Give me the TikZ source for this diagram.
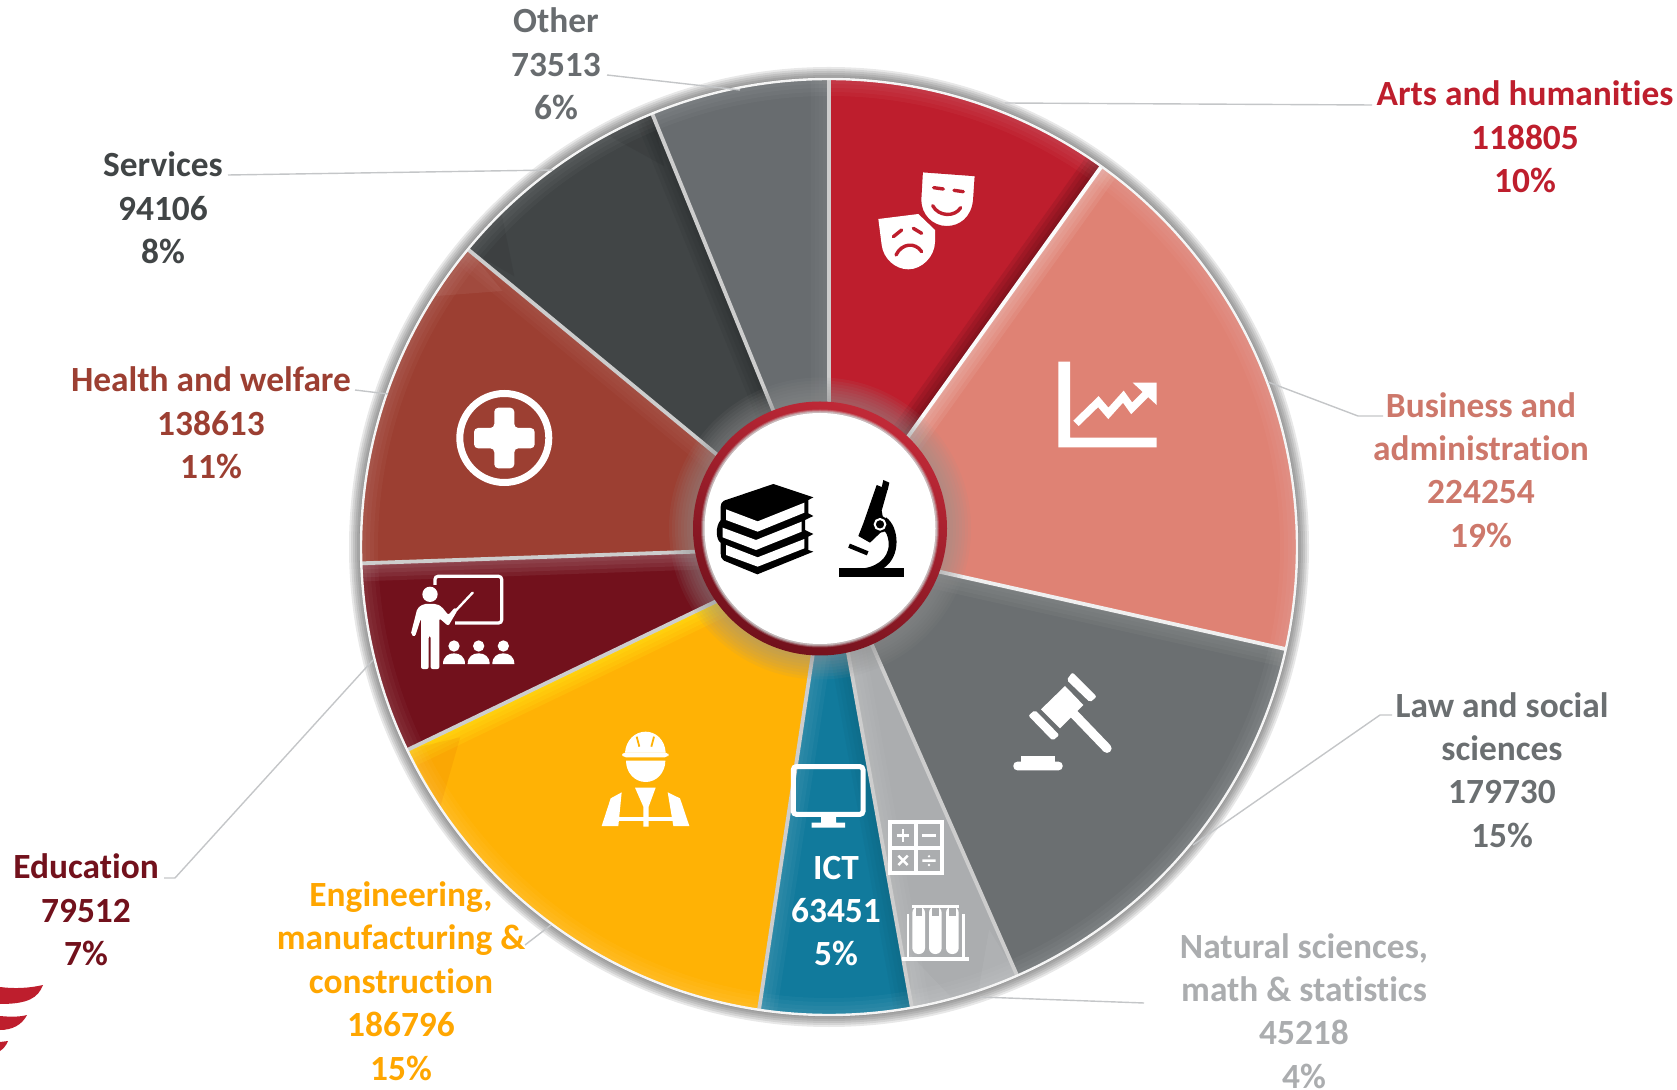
\documentclass[tikz,border=0pt]{standalone}
\usepackage{fontspec}
\setmainfont{Carlito}[Ligatures=CommonOff]
\usetikzlibrary{calc}
\definecolor{artsc}{HTML}{BE1E2D}
\definecolor{busc}{HTML}{DF8274}
\definecolor{lawc}{HTML}{6B6F71}
\definecolor{natc}{HTML}{ABADAF}
\definecolor{ictc}{HTML}{117A9C}
\definecolor{engc}{HTML}{FFB205}
\definecolor{educ}{HTML}{72111C}
\definecolor{heac}{HTML}{9C3F32}
\definecolor{serc}{HTML}{414546}
\definecolor{othc}{HTML}{686C6F}
\definecolor{rimc}{HTML}{CDCDCD}
\definecolor{leadc}{HTML}{C4C6C8}
\tikzset{
 lbl/.style={font=\fontsize{17.7}{21.7}\selectfont\bfseries,align=center,inner sep=0pt},
 leader/.style={draw=leadc,line width=0.7pt},
 spoke/.style={draw=rimc,line width=1.9pt},
 zoomed/.style n args={2}{shift={(#1,#2)},x=0.16667pt,y=-0.16667pt},
}
\newcommand{\wedgefill}[3]{\fill[#3] (c) -- ($(c)+(#1:468)$) arc[start angle=#1,end angle=#2,radius=468] -- cycle;}
\newcommand{\edgeglow}[4]{%
 \begin{scope}
 \clip (c) -- ($(c)+(#1:468)$) arc[start angle=#1,end angle=#2,radius=468] -- cycle;
 \foreach \w in {36,28,20,12,6}{\draw[#4,opacity=0.14,line width=\w*0.5pt] (c) -- ($(c)+(#3:468)$);}
 \end{scope}}
\newcommand{\facet}[3]{\fill[#3,opacity=0.06] ($(c)+(#1:467)$) -- ($(c)+({#1+0.2*(#2)}:415)$) -- ($(c)+({#1+(#2)}:467)$) -- cycle;}
\begin{document}
\begin{tikzpicture}[x=0.5pt,y=-0.5pt]
\useasboundingbox (0,0) rectangle (1677,1090);
\coordinate (c) at (829,547);
% soft outer shadow
\foreach \r in {480,478,476,474,472,470}{\fill[black!75,opacity=0.12] (c) circle (\r);}
% wedges
\wedgefill{-90}{-54.4}{artsc}
\wedgefill{-54.4}{12.6}{busc}
\wedgefill{12.6}{66.3}{lawc}
\wedgefill{66.3}{79.8}{natc}
\wedgefill{79.8}{98.6}{ictc}
\wedgefill{98.6}{154.3}{engc}
\wedgefill{154.3}{178}{educ}
\wedgefill{178}{219.5}{heac}
\wedgefill{219.5}{247.8}{serc}
\wedgefill{247.8}{270}{othc}
% bevel glows
\edgeglow{-90}{-54.4}{-54.4}{black!60!artsc}
\edgeglow{-54.4}{12.6}{-54.4}{white!55!busc}
\edgeglow{12.6}{66.3}{12.6}{white!25!lawc}
\edgeglow{66.3}{79.8}{79.8}{white!25!natc}
\edgeglow{79.8}{98.6}{98.6}{white!25!ictc}
\edgeglow{79.8}{98.6}{79.8}{black!20!ictc}
\edgeglow{98.6}{154.3}{154.3}{yellow!90!white}
\edgeglow{154.3}{178}{178}{white!45!educ}
\edgeglow{178}{219.5}{219.5}{white!18!heac}
\edgeglow{219.5}{247.8}{247.8}{black!40!serc}
\edgeglow{247.8}{270}{270}{white!15!othc}
% light along the outer edge
\begin{scope}
\clip (c) circle (468);
\foreach \w in {34,26,18,10}{\draw[white,opacity=0.03,line width=\w*0.5pt] (c) circle (468);}
\end{scope}
% corner facets
\facet{219.5}{-7}{white}
\facet{219.5}{6}{black}
\facet{247.8}{-6}{black}
\facet{154.3}{-8}{black!30!red}
\facet{79.8}{-5}{white}
\facet{66.3}{5}{white}
% spokes
\foreach \a/\s in {-90/rimc,-54.4/white!92!rimc,12.6/white!70!rimc,66.3/rimc,79.8/rimc,98.6/rimc,154.3/rimc,178/rimc,219.5/rimc,247.8/rimc}{
  \draw[spoke,draw=\s] (c) -- ($(c)+(\a:468)$);}
\draw[draw=white!80!rimc,line width=1.2pt] (c) circle (468);
% grey halo round the hub
\coordinate (h) at (820,528.5);
\foreach \r in {151,148,145,142,139,136,133,130}{\fill[gray!85,opacity=0.085] (h) circle (\r);}
% hub
\shade[top color=artsc!95!white,bottom color=educ,shading angle=-25] (h) circle (127);
\foreach \r/\o in {119/.25,118/.45,117/.7}{\fill[gray!40!white,opacity=\o] (h) circle (\r);}
\fill[white] (h) circle (115.5);
% books
\begin{scope}[zoomed={650}{380}]
\fill[black] (222,362) -- (370,312) -- (490,352) -- (475,360) -- (475,400) -- (490,408) -- (465,420) -- (465,450) -- (490,462) -- (475,470) -- (475,510) -- (490,515) -- (322,583) -- (222,542) .. controls (214,538) and (212,530) .. (212,520) -- (212,488) .. controls (198,480) and (195,440) .. (212,420) -- (212,380) .. controls (212,372) and (215,365) .. (222,362) -- cycle;
\fill[white] (228,388) -- (323,424) -- (463,368) -- (463,398) -- (323,455) -- (228,420) -- cycle;
\fill[white] (218,443) -- (318,480) -- (455,425) -- (455,455) -- (318,510) -- (218,472) -- cycle;
\fill[white] (228,495) -- (323,532) -- (463,477) -- (463,505) -- (323,560) -- (228,525) -- cycle;
% microscope
\fill[black] (568,565) rectangle (762,592);
\fill[black] (700,300) -- (718,308) -- (713,330) -- (695,322) -- cycle;
\fill[black] (680,315) -- (713,328) -- (695,392) -- (705,445) -- (660,488) -- (625,468) -- (640,430) -- cycle;
\fill[black] (708,412) .. controls (748,440) and (755,530) .. (700,565) -- (640,565) .. controls (690,558) and (725,525) .. (714,475) .. controls (710,460) and (706,452) .. (698,450) -- cycle;
\fill[black] (690,433) circle[radius=25];
\draw[white,line width=1pt] (690,433) circle[radius=16];
\draw[black,line width=2.2pt] (597,497) -- (653,520);
\end{scope}
% masks
\begin{scope}[zoomed={840}{140}]
\fill[white] (115,237) -- (235,222) -- (285,270) -- (285,305) .. controls (285,350) and (245,388) .. (205,388) .. controls (165,388) and (130,355) .. (125,315) -- cycle;
\draw[artsc,line width=1.7pt,line cap=round] (160,290) -- (185,270) (220,265) -- (245,280);
\draw[artsc,line width=1.7pt,line cap=round] (168,345) .. controls (185,310) and (225,305) .. (245,335);
\fill[white,draw=artsc,line width=1.3pt] (245,93) -- (408,105) -- (403,180) .. controls (398,235) and (360,262) .. (320,262) .. controls (275,262) and (240,225) .. (240,180) -- cycle;
\draw[artsc,line width=1.7pt,line cap=round] (281,143) -- (310,147) (342,151) -- (370,155);
\draw[artsc,line width=1.7pt,line cap=round] (278,197) .. controls (295,230) and (345,232) .. (362,203);
% chart
\fill[white] (655,665) -- (690,665) -- (690,893) -- (950,893) -- (950,922) -- (655,922) -- cycle;
\draw[white,line width=3.8pt,line join=miter] (708,850) -- (775,785) -- (805,820) -- (850,770) -- (875,805) -- (928,752);
\fill[white] (878,728) -- (950,728) -- (950,795) -- cycle;
\end{scope}
% gavel
\begin{scope}[zoomed={980}{650}]
\fill[white] (183,178) -- (255,108) -- (310,165) -- (240,235) -- cycle;
\fill[white,rounded corners=1pt] (260,90) -- (277,67) -- (350,140) -- (330,157) -- cycle;
\fill[white,rounded corners=1pt] (145,197) -- (165,180) -- (238,255) -- (218,272) -- cycle;
\draw[white,line width=4.6pt,line cap=round] (280,190) -- (381,295);
\fill[white] (122,317) rectangle (226,337);
\fill[white,rounded corners=2pt] (100,335) rectangle (248,361);
\end{scope}
% monitor, calculator, test tubes
\begin{scope}[zoomed={760}{740}]
\draw[white,line width=2.5pt,rounded corners=1.5pt] (100,80) rectangle (309,223);
\fill[white] (183,228) -- (228,228) -- (228,248) -- (255,248) -- (255,263) -- (155,263) -- (155,248) -- (183,248) -- cycle;
\fill[white] (384,240) rectangle (552,405);
\fill[natc] (397,253) rectangle (462,318);
\fill[natc] (473,253) rectangle (540,318);
\fill[natc] (397,330) rectangle (462,393);
\fill[natc] (473,330) rectangle (540,393);
\draw[white,line width=1.2pt] (410,286) -- (448,286) (429,267) -- (429,305) (487,286) -- (527,286);
\draw[white,line width=1.2pt] (415,347) -- (443,375) (443,347) -- (415,375) (487,362) -- (527,362);
\fill[white] (507,349) circle[radius=4] (507,375) circle[radius=4];
\fill[white] (427,650) rectangle (627,664);
\fill[white] (440,522) rectangle (448,650);
\fill[white] (607,522) rectangle (615,650);
\fill[white] (455,495) rectangle (598,503);
\foreach \x in {457,507,558}{
  \fill[white,rounded corners=3pt] (\x,500) -- (\x,642) -- (\x+38,642) -- (\x+38,500) -- cycle;
  \fill[natc] (\x+10,505) rectangle (\x+29,528);}
\end{scope}
% teacher and engineer
\begin{scope}[zoomed={380}{550}]
\draw[white,line width=1.6pt,rounded corners=1.5pt] (165,105) -- (165,79) -- (365,79) -- (365,219) -- (225,219);
\fill[white] (150,133) circle[radius=23];
\fill[white,rounded corners=1pt] (130,162) -- (170,162) -- (185,170) -- (205,195) -- (225,172) -- (232,182) -- (205,228) -- (178,205) -- (178,357) -- (152,357) -- (152,258) -- (146,258) -- (146,357) -- (123,357) -- (123,205) -- (105,260) -- (92,254) -- (112,175) -- cycle;
\draw[white,line width=1.2pt,line cap=round] (215,195) -- (278,128);
\foreach \x in {222,296,370}{
  \fill[white] (\x,288) circle[radius=17];
  \fill[white] (\x-33,342) .. controls (\x-33,320) and (\x-18,310) .. (\x,310) .. controls (\x+18,310) and (\x+33,320) .. (\x+33,342) -- cycle;}
% engineer
\fill[white] (735,608) .. controls (738,570) and (765,545) .. (797,545) .. controls (828,545) and (855,570) .. (857,608) -- cycle;
\draw[engc,line width=0.9pt] (770,560) -- (778,590) (822,560) -- (814,590);
\fill[white,rounded corners=2pt] (726,607) rectangle (866,622);
\fill[white] (738,632) -- (856,632) .. controls (856,668) and (830,696) .. (797,696) .. controls (764,696) and (738,668) .. (738,632) -- cycle;
\fill[white] (765,713) -- (827,713) -- (806,770) -- (806,830) -- (790,830) -- (790,770) -- cycle;
\fill[white] (725,727) -- (692,745) -- (665,828) -- (715,828) -- cycle;
\fill[white] (863,727) -- (900,745) -- (928,828) -- (880,828) -- cycle;
\fill[white] (715,800) rectangle (880,814);
\end{scope}
% health cross
\draw[white,line width=3.5pt] (504.3,438) circle (44.5);
\fill[white,rounded corners=2pt] (494.3,407.7) -- (514.3,407.7) -- (514.3,428) -- (534.7,428) -- (534.7,448.3) -- (514.3,448.3) -- (514.3,468.3) -- (494.3,468.3) -- (494.3,448.3) -- (474,448.3) -- (474,428) -- (494.3,428) -- cycle;
% logo fragment
\fill[artsc] (0,987) .. controls (15,989) and (30,988) .. (43,985) .. controls (38,998) and (28,1004) .. (0,1004) -- cycle;
\fill[artsc] (0,1016) .. controls (10,1017) and (20,1017) .. (27,1015) .. controls (22,1025) and (12,1030) .. (0,1030) -- cycle;
\fill[artsc] (0,1042) -- (8,1041) .. controls (6,1046) and (3,1049) .. (0,1051) -- cycle;
% labels
\node[lbl,text=artsc] (lArts) at (1525,137) {Arts and humanities\\118805\\10\%};
\node[lbl,text=busc!92!black] (lBus) at (1481,470) {Business and\\administration\\224254\\19\%};
\node[lbl,text=lawc] (lLaw) at (1502,770) {Law and social\\sciences\\179730\\15\%};
\node[lbl,text=natc] (lNat) at (1304,1011) {Natural sciences,\\math \& statistics\\45218\\4\%};
\node[lbl,text=white] (lIct) at (836,911) {ICT\\63451\\5\%};
\node[lbl,text=orange!70!yellow] (lEng) at (401,981) {Engineering,\\manufacturing \&\\construction\\186796\\15\%};
\node[lbl,text=educ] (lEdu) at (86,910) {Education\\79512\\7\%};
\node[lbl,text=heac] (lHea) at (211,423) {Health and welfare\\138613\\11\%};
\node[lbl,text=serc] (lSer) at (163,208) {Services\\94106\\8\%};
\node[lbl,text=othc] (lOth) at (556,64) {Other\\73513\\6\%};
% leader lines
\coordinate (aArts) at (1005,103); \coordinate (bArts) at (1372,105);
\coordinate (aOth) at (740,90); \coordinate (bOth) at (607,75);
\coordinate (aSer) at (553,170); \coordinate (bSer) at (228,175);
\coordinate (aHea) at (388,394); \coordinate (bHea) at (355,390);
\coordinate (aBus) at (1268,382); \coordinate (kBus) at (1358,416); \coordinate (bBus) at (1383,416);
\coordinate (aLaw) at (1193,845); \coordinate (kLaw) at (1380,715); \coordinate (bLaw) at (1392,715);
\coordinate (aNat) at (980,997); \coordinate (bNat) at (1144,1003);
\coordinate (aEdu) at (373,660); \coordinate (kEdu) at (175,878); \coordinate (bEdu) at (164,878);
\coordinate (aEng) at (551,925); \coordinate (bEng) at (525,945);
\draw[leader] (bArts) -- (aArts);
\draw[leader] (bOth) -- (aOth);
\draw[leader] (bSer) -- (aSer);
\draw[leader] (bHea) -- (aHea);
\draw[leader] (bBus) -- (kBus) -- (aBus);
\draw[leader] (bLaw) -- (kLaw) -- (aLaw);
\draw[leader] (bNat) -- (aNat);
\draw[leader] (bEdu) -- (kEdu) -- (aEdu);
\draw[leader] (bEng) -- (aEng);
\end{tikzpicture}
\end{document}
